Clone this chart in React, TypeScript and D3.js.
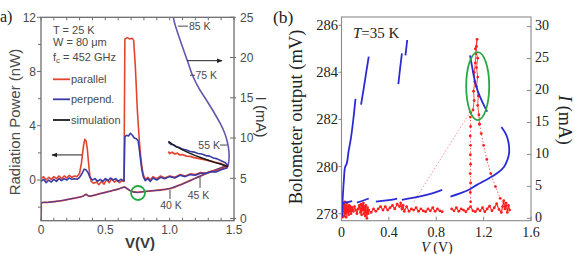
import React from "react";
import * as d3 from "d3";

type P = [number, number];

// ================= Panel (a) =================
const aXTickValues = [0, 0.5, 1.0, 1.5];
const aXTickLabels = ["0", "0.5", "1.0", "1.5"];
const aLeftTickValues = [0, 4, 8, 12];
const aLeftTickLabels = ["0", "4", "8", "12"];
const aLeftMinorValues = [-2, 2, 6, 10];
const aRightTickValues = [0, 5, 10, 15, 20, 25];
const aRightTickLabels = ["0", "5", "10", "15", "20", "25"];

// Radiation power (nW), parallel polarisation
const aParallel: P[] = [
  [0, 0.1], [0.02, 0.25], [0.04, 0.0], [0.06, 0.2], [0.08, 0.05], [0.1, 0.25], [0.12, 0.1], [0.14, 0.3],
  [0.16, 0.1], [0.18, 0.3], [0.2, 0.15], [0.22, 0.35], [0.24, 0.2], [0.26, 0.3], [0.28, 0.25], [0.3, 0.5],
  [0.315, 1.3], [0.33, 2.5], [0.34, 3.0], [0.35, 2.9], [0.36, 2.3], [0.37, 1.2], [0.38, 0.3], [0.39, -0.1],
  [0.41, -0.25], [0.43, -0.15], [0.45, -0.35], [0.47, -0.1], [0.49, -0.3], [0.51, 0.05], [0.53, -0.2],
  [0.55, 0.1], [0.57, -0.15], [0.59, 0.0], [0.61, -0.2], [0.63, -0.05], [0.645, -0.1], [0.652, 10.4],
  [0.67, 10.5], [0.69, 10.4], [0.71, 10.45], [0.72, 10.3], [0.725, 9.6], [0.733, 8.4], [0.74, 7.0],
  [0.748, 5.3], [0.755, 4.2], [0.765, 2.8], [0.775, 1.7], [0.785, 0.9], [0.795, 0.4], [0.81, 0.05],
  [0.83, 0.2], [0.85, 0.0], [0.87, 0.25], [0.9, 0.1], [0.93, 0.3], [0.96, 0.15], [1.0, 0.3], [1.04, 0.2],
  [1.08, 0.4], [1.12, 0.3], [1.16, 0.45], [1.2, 0.4], [1.24, 0.55], [1.28, 0.5], [1.32, 0.65],
  [1.36, 0.65], [1.4, 0.8], [1.45, 0.95],
];

// Radiation power (nW), perpendicular polarisation
const aPerpend: P[] = [
  [0, -0.1], [0.02, 0.05], [0.04, -0.2], [0.06, 0.0], [0.08, -0.15], [0.1, 0.05], [0.12, -0.1], [0.14, 0.1],
  [0.16, -0.05], [0.18, 0.1], [0.2, 0.0], [0.22, 0.15], [0.24, 0.05], [0.26, 0.1], [0.28, 0.05], [0.3, 0.2],
  [0.32, 0.5], [0.335, 0.8], [0.35, 0.75], [0.365, 0.55], [0.38, 0.2], [0.4, 0.0], [0.42, 0.1],
  [0.44, -0.1], [0.46, 0.05], [0.48, -0.1], [0.5, 0.1], [0.52, -0.05], [0.54, 0.15], [0.56, 0.0],
  [0.58, 0.1], [0.6, -0.1], [0.62, 0.05], [0.645, -0.05], [0.652, 3.2], [0.665, 3.3], [0.68, 3.25],
  [0.695, 3.45], [0.71, 3.3], [0.725, 3.1], [0.74, 3.05], [0.755, 2.9], [0.765, 2.2], [0.775, 1.4],
  [0.785, 0.7], [0.795, 0.25], [0.81, -0.05], [0.83, 0.1], [0.85, -0.1], [0.87, 0.15], [0.9, 0.0],
  [0.93, 0.2], [0.96, 0.1], [1.0, 0.25], [1.04, 0.15], [1.08, 0.35], [1.12, 0.25], [1.16, 0.4],
  [1.2, 0.35], [1.24, 0.5], [1.28, 0.5], [1.32, 0.6], [1.36, 0.6], [1.4, 0.75], [1.45, 0.9],
];

// High-voltage branch (nW)
const aParallelHigh: P[] = [
  [0.99, 2.1], [1.0, 1.95], [1.02, 2.05], [1.04, 1.92], [1.06, 1.98], [1.08, 1.85], [1.1, 1.88],
  [1.13, 1.76], [1.16, 1.74], [1.19, 1.66], [1.22, 1.6], [1.25, 1.55], [1.28, 1.48], [1.31, 1.42],
  [1.34, 1.34], [1.37, 1.27], [1.4, 1.2], [1.43, 1.08], [1.455, 0.98],
];
const aPerpendHigh: P[] = [
  [0.99, 2.8], [1.01, 2.62], [1.03, 2.6], [1.05, 2.45], [1.07, 2.42], [1.1, 2.28], [1.13, 2.22],
  [1.16, 2.1], [1.19, 2.06], [1.22, 1.96], [1.25, 1.92], [1.28, 1.8], [1.31, 1.76], [1.34, 1.62],
  [1.37, 1.56], [1.4, 1.42], [1.43, 1.3], [1.455, 1.05],
];
const aSimulation: P[] = [
  [0.99, 2.85], [1.02, 2.65], [1.06, 2.42], [1.1, 2.22], [1.15, 2.0], [1.2, 1.8], [1.25, 1.62],
  [1.3, 1.46], [1.35, 1.3], [1.4, 1.16], [1.455, 0.98],
];

// I-V curves (mA)
const aUpperIV: P[] = [
  [1.02, 25.6], [1.04, 24.2], [1.07, 22.7], [1.1, 21.3], [1.14, 19.5], [1.18, 17.7], [1.23, 16.1],
  [1.29, 14.6], [1.34, 13.3], [1.39, 11.9], [1.42, 10.9], [1.44, 10.0], [1.455, 9.0], [1.462, 8.0],
  [1.46, 7.2], [1.455, 6.6],
];
const aLowerIV: P[] = [
  [0, -0.3], [0.002, 1.2], [0.005, 1.95], [0.05, 2.0], [0.1, 2.1], [0.15, 2.2], [0.2, 2.35], [0.25, 2.5],
  [0.3, 2.65], [0.33, 2.8], [0.35, 3.0], [0.37, 2.8], [0.4, 2.85], [0.45, 3.05], [0.5, 3.25], [0.55, 3.45],
  [0.6, 3.65], [0.65, 3.9], [0.67, 3.7], [0.7, 3.4], [0.75, 3.25], [0.8, 3.35], [0.9, 3.5], [1.0, 3.72],
  [1.1, 4.3], [1.2, 5.0], [1.3, 5.7], [1.4, 6.3], [1.455, 6.6],
];

// temperature annotations: [label, textV, textI, leaderV1, leaderI1, leaderV2, leaderI2, anchor]
const aTempLabels: [string, number, number, number, number, number, number, string][] = [
  ["85 K", 1.15, 23.4, 1.065, 23.9, 1.142, 23.9, "start"],
  ["75 K", 1.2, 17.3, 1.158, 17.8, 1.197, 17.8, "start"],
  ["55 K", 1.391, 8.64, 1.391, 9.13, 1.446, 9.13, "end"],
  ["45 K", 1.224, 2.43, 1.236, 5.16, 1.236, 3.8, "middle"],
  ["40 K", 1.01, 1.18, 1.0026, 3.55, 1.0026, 2.43, "middle"],
];

// ================= Panel (b) =================
const bXTickValues = [0, 0.4, 0.8, 1.2, 1.6];
const bXTickLabels = ["0", "0.4", "0.8", "1.2", "1.6"];
const bLeftTickValues = [278, 280, 282, 284, 286];
const bLeftTickLabels = ["278", "280", "282", "284", "286"];
const bRightTickValues = [0, 5, 10, 15, 20, 25, 30];
const bRightTickLabels = ["0", "5", "10", "15", "20", "25", "30"];

// I-V (mA) segments
const bBlueSegments: P[][] = [
  [[0.003, 0.2], [0.01, 3.0], [0.02, 6.0], [0.03, 8.0], [0.045, 8.6], [0.06, 10.5], [0.08, 12.6], [0.1, 15.5], [0.118, 18.7]],
  [[0.165, 17.8], [0.19, 20.6], [0.21, 23.0], [0.23, 25.3]],
  [[0.48, 21.0], [0.495, 23.5], [0.51, 25.8]],
  [[0.54, 25.5], [0.548, 26.8], [0.555, 27.9]],
  [[1.085, 25.5], [1.1, 24.0], [1.12, 22.0], [1.14, 20.5], [1.17, 19.0], [1.2, 17.8], [1.23, 16.7]],
  [[0.005, 2.35], [0.04, 2.5], [0.09, 2.7]],
  [[0.13, 2.45], [0.18, 2.75], [0.23, 3.1]],
  [[0.29, 2.6], [0.38, 2.8], [0.47, 3.1]],
  [[0.51, 2.9], [0.6, 3.2], [0.7, 3.6], [0.78, 4.0], [0.85, 4.45]],
  [[0.92, 3.4], [1.0, 3.9], [1.08, 4.5], [1.14, 5.2], [1.22, 6.0], [1.31, 7.0], [1.37, 8.0], [1.4, 9.1],
   [1.415, 10.2], [1.415, 11.2], [1.405, 12.3], [1.385, 13.3], [1.35, 14.3]],
];

// bolometer output (mV)
const bRedBaseA: P[] = [
  [0.0, 278.0], [0.004, 278.35], [0.008, 277.85], [0.012, 278.45], [0.015, 278.1], [0.018, 278.4],
  [0.021, 277.9], [0.025, 278.25], [0.028, 278.5], [0.032, 278.0], [0.035, 278.35], [0.039, 277.85],
  [0.043, 278.2], [0.047, 278.45], [0.05, 278.05], [0.055, 278.3], [0.06, 277.95], [0.065, 278.35],
  [0.07, 278.1], [0.075, 278.3], [0.08, 278.0], [0.09, 278.25], [0.1, 278.1], [0.11, 278.3],
  [0.12, 278.15], [0.13, 278.0], [0.14, 278.2], [0.15, 278.35], [0.16, 278.05], [0.165, 278.4],
  [0.17, 277.95], [0.175, 278.35], [0.18, 278.15], [0.185, 278.45], [0.19, 278.0], [0.195, 278.3],
  [0.2, 277.9], [0.205, 278.35], [0.21, 278.1], [0.215, 277.8], [0.22, 278.25], [0.225, 278.0],
  [0.23, 278.15], [0.25, 278.05], [0.27, 278.2], [0.29, 278.1], [0.31, 278.2], [0.33, 278.3],
  [0.35, 278.15], [0.37, 278.3], [0.39, 278.15], [0.41, 278.25], [0.43, 278.35], [0.45, 278.2],
  [0.47, 278.4], [0.49, 278.3], [0.5, 278.45], [0.51, 278.2], [0.52, 278.35], [0.53, 278.1],
  [0.55, 278.3], [0.57, 278.1], [0.59, 278.2], [0.61, 278.15], [0.63, 278.25], [0.65, 278.1],
  [0.67, 278.2], [0.69, 278.12], [0.71, 278.08], [0.73, 278.2], [0.75, 278.12], [0.77, 278.25],
  [0.79, 278.1], [0.81, 278.2], [0.83, 278.12], [0.85, 278.08],
];
const bRedBaseB: P[] = [
  [0.93, 278.2], [0.95, 278.12], [0.97, 278.25], [0.99, 278.1], [1.01, 278.2], [1.03, 278.15],
  [1.05, 278.08], [1.07, 278.2], [1.09, 278.3], [1.11, 278.12], [1.13, 278.08], [1.15, 278.2],
  [1.17, 278.12], [1.19, 278.25], [1.21, 278.08], [1.23, 278.2], [1.25, 278.32], [1.27, 278.12],
  [1.29, 278.25], [1.31, 278.42], [1.33, 278.18], [1.35, 278.05], [1.36, 278.3], [1.37, 278.55],
  [1.38, 278.2], [1.39, 278.45], [1.4, 278.05], [1.41, 278.35], [1.42, 278.15],
];
const bRedColumn: P[] = [
  [1.09, 278.5], [1.088, 278.9], [1.09, 279.3], [1.087, 279.7], [1.09, 280.1], [1.088, 280.5],
  [1.09, 280.9], [1.087, 281.3], [1.09, 281.7], [1.088, 282.1], [1.09, 282.3],
];
const bRedPeak: P[] = [
  [1.11, 282.4], [1.12, 282.8], [1.115, 283.2], [1.125, 283.6], [1.12, 284.0], [1.13, 284.4],
  [1.135, 284.8], [1.14, 285.1], [1.145, 285.4], [1.13, 285.0], [1.15, 284.6], [1.14, 284.2],
  [1.15, 283.8], [1.14, 283.4], [1.155, 283.0], [1.15, 282.6], [1.16, 282.2], [1.165, 281.8],
];
const bRedFall: P[] = [
  [1.165, 281.8], [1.18, 281.4], [1.2, 280.9], [1.227, 280.3], [1.26, 279.7], [1.3, 279.15],
  [1.34, 278.65], [1.38, 278.3],
];
const bRedFaint: P[] = [[0.61, 278.5], [1.085, 282.3]];

const SANS = "'Liberation Sans', Arial, Helvetica, sans-serif";
const SERIF = "'Liberation Serif', 'Times New Roman', Times, serif";

export default function App() {
  const xA = d3.scaleLinear().domain([0, 1.5]).range([41, 234]);
  const yAL = d3.scaleLinear().domain([-3, 12]).range([220.7, 17.3]);
  const yAR = d3.scaleLinear().domain([-0.27, 25]).range([220.7, 17.3]);
  const xB = d3.scaleLinear().domain([0, 1.6]).range([341.5, 531]);
  const yBL = d3.scaleLinear().domain([277.7, 286.35]).range([220.7, 17]);
  const yBR = d3.scaleLinear().domain([-0.37, 31.5]).range([220.7, 17]);

  const lAL = d3.line<P>().x((d) => xA(d[0])).y((d) => yAL(d[1]));
  const lAR = d3.line<P>().x((d) => xA(d[0])).y((d) => yAR(d[1])).curve(d3.curveCatmullRom);
  const lBR = d3.line<P>().x((d) => xB(d[0])).y((d) => yBR(d[1])).curve(d3.curveCatmullRom);
  const lBL = d3.line<P>().x((d) => xB(d[0])).y((d) => yBL(d[1]));

  const [ax0, ax1] = xA.range();
  const [ay0, ay1] = [yAL.range()[1], yAL.range()[0]];
  const [bx0, bx1] = xB.range();
  const [by0, by1] = [yBL.range()[1], yBL.range()[0]];

  const aMinorX = d3.range(0, 1.5001, 0.1);
  const red = "#e2452e";
  const blue = "#3b3ba6";
  const purple = "#6656ad";
  const axisA = "#6e6e6e";
  const textA = "#4a4a4a";
  const bRed = "#ff1f1f";
  const bBlue = "#2b2bd6";
  const green = "#27a845";

  return (
    <svg width={575} height={254} style={{ position: "absolute", left: 0, top: 0, background: "#fff" }}>
      <defs>
        <clipPath id="clipA"><rect x={ax0} y={ay0} width={ax1 - ax0} height={ay1 - ay0} /></clipPath>
        <clipPath id="clipB"><rect x={bx0} y={by0} width={bx1 - bx0} height={by1 - by0} /></clipPath>
        <marker id="arr" viewBox="0 0 10 10" refX="9" refY="5" markerWidth="6" markerHeight="6" orient="auto-start-reverse">
          <path d="M0,1 L10,5 L0,9 Z" fill="#222" />
        </marker>
      </defs>

      {/* ============ Panel (a) ============ */}
      <text x={0} y={22} fontFamily={SERIF} fontSize={16} fill="#222">a)</text>
      <g clipPath="url(#clipA)" fill="none" strokeLinejoin="round">
        <path d={lAR(aLowerIV) || ""} stroke={red} strokeWidth={1.8} />
        <path d={lAR(aLowerIV) || ""} stroke={blue} strokeWidth={1.1} opacity={0.85} />
        <path d={lAR(aUpperIV) || ""} stroke={purple} strokeWidth={1.6} />
        <path d={lAL(aParallel) || ""} stroke={red} strokeWidth={1.6} />
        <path d={lAL(aPerpend) || ""} stroke={blue} strokeWidth={1.6} />
        <path d={lAL(aParallelHigh) || ""} stroke={red} strokeWidth={1.8} />
        <path d={lAL(aPerpendHigh) || ""} stroke={blue} strokeWidth={1.6} />
        <path d={lAL(aSimulation) || ""} stroke="#1b1b1b" strokeWidth={1.5} />
      </g>
      {/* frame */}
      <rect x={ax0} y={ay0} width={ax1 - ax0} height={ay1 - ay0} fill="none" stroke={axisA} strokeWidth={1.3} />
      {aMinorX.map((v, i) => (
        <g key={"amx" + i} stroke={axisA} strokeWidth={1}>
          <line x1={xA(v)} x2={xA(v)} y1={ay1} y2={ay1 - 3} />
          <line x1={xA(v)} x2={xA(v)} y1={ay0} y2={ay0 + 3} />
        </g>
      ))}
      {aXTickValues.map((v, i) => (
        <text key={"axl" + i} x={xA(v)} y={234} textAnchor="middle" fontFamily={SANS} fontSize={12} fill={textA}>{aXTickLabels[i]}</text>
      ))}
      {aLeftTickValues.map((v, i) => (
        <g key={"alt" + i}>
          <line x1={ax0 - 4} x2={ax0} y1={yAL(v)} y2={yAL(v)} stroke={axisA} strokeWidth={1} />
          <text x={36} y={yAL(v) + 4.3} textAnchor="end" fontFamily={SANS} fontSize={12} fill={textA}>{aLeftTickLabels[i]}</text>
        </g>
      ))}
      {aLeftMinorValues.map((v, i) => (
        <line key={"alm" + i} x1={ax0 - 3} x2={ax0} y1={yAL(v)} y2={yAL(v)} stroke={axisA} strokeWidth={1} />
      ))}
      {aRightTickValues.map((v, i) => (
        <g key={"art" + i}>
          <line x1={ax1 - 4} x2={ax1 + 2} y1={yAR(v)} y2={yAR(v)} stroke={axisA} strokeWidth={1} />
          <text x={240} y={yAR(v) + 4.3} textAnchor="start" fontFamily={SANS} fontSize={12} fill={textA}>{aRightTickLabels[i]}</text>
        </g>
      ))}
      <text transform="translate(20,122) rotate(-90)" textAnchor="middle" fontFamily={SANS} fontSize={15} fill={textA}>Radiation Power (nW)</text>
      <text x={140} y={248} textAnchor="middle" fontFamily={SANS} fontSize={15} fontWeight={600} fill="#3a3a3a">V(V)</text>
      <text transform="translate(256,117) rotate(90)" textAnchor="middle" fontFamily={SANS} fontSize={15} fill="#3a3a3a">I (mA)</text>

      {/* info text */}
      <g fontFamily={SANS} fontSize={11} fill={textA}>
        <text x={53} y={34}>T = 25 K</text>
        <text x={53} y={45.5}>W = 80 μm</text>
        <text x={53} y={60.5}>f<tspan dy={2.5} fontSize={8}>c</tspan><tspan dy={-2.5}> = 452 GHz</tspan></text>
        <line x1={53} x2={70} y1={79.3} y2={79.3} stroke={red} strokeWidth={1.8} />
        <text x={71} y={83}>parallel</text>
        <line x1={53} x2={70} y1={99.3} y2={99.3} stroke={blue} strokeWidth={1.8} />
        <text x={71} y={103}>perpend.</text>
        <line x1={53} x2={70} y1={120} y2={120} stroke="#1b1b1b" strokeWidth={1.8} />
        <text x={71} y={123.7}>simulation</text>
      </g>

      {/* temperature labels */}
      {aTempLabels.map((t, i) => (
        <g key={"tl" + i}>
          <line x1={xA(t[3])} x2={xA(t[5])} y1={yAR(t[4])} y2={yAR(t[6])} stroke={textA} strokeWidth={1} />
          <text x={xA(t[1])} y={yAR(t[2])} textAnchor={t[7] as any} fontFamily={SANS} fontSize={10.5} fill={textA}>{t[0]}</text>
        </g>
      ))}

      {/* arrows */}
      <line x1={xA(0.319)} x2={xA(0.085)} y1={yAL(1.85)} y2={yAL(1.85)} stroke="#222" strokeWidth={1} markerEnd="url(#arr)" />
      <line x1={xA(1.135)} x2={xA(1.407)} y1={yAR(19.61)} y2={yAR(19.61)} stroke="#222" strokeWidth={1} markerEnd="url(#arr)" />

      {/* green circle */}
      <circle cx={xA(0.754)} cy={yAR(3.17)} r={7} fill="none" stroke={green} strokeWidth={1.8} />

      {/* ============ Panel (b) ============ */}
      <text x={273} y={23} fontFamily={SERIF} fontSize={17.5} fill="#222">(b)</text>
      <g clipPath="url(#clipB)">
        {/* red bolometer trace */}
        <g fill="none" stroke={bRed}>
          <path d={lBL(bRedFaint) || ""} strokeWidth={0.7} strokeDasharray="1.5,2" opacity={0.7} />
          <path d={lBL(bRedBaseA) || ""} strokeWidth={1.1} />
          <path d={lBL(bRedBaseB) || ""} strokeWidth={1.1} />
          <path d={lBL(bRedColumn) || ""} strokeWidth={0.7} strokeDasharray="1.5,2" />
          <path d={lBL(bRedPeak) || ""} strokeWidth={0.8} />
          <path d={lBL(bRedFall) || ""} strokeWidth={0.7} strokeDasharray="1.5,2" />
        </g>
        {[...bRedBaseA, ...bRedBaseB, ...bRedColumn, ...bRedPeak, ...bRedFall].map((d, i) => (
          <circle key={"rp" + i} cx={xB(d[0])} cy={yBL(d[1])} r={1.4} fill={bRed} />
        ))}
        {/* blue IV */}
        {bBlueSegments.map((s, i) => (
          <path key={"bs" + i} d={lBR(s) || ""} fill="none" stroke={bBlue} strokeWidth={1.8} />
        ))}
      </g>
      <rect x={bx0} y={by0} width={bx1 - bx0} height={by1 - by0} fill="none" stroke="#8a8a8a" strokeWidth={1.1} />
      {bXTickValues.map((v, i) => (
        <g key={"bx" + i}>
          <line x1={xB(v)} x2={xB(v)} y1={by1} y2={by1 - 4} stroke="#8a8a8a" strokeWidth={1} />
          <text x={xB(v)} y={237} textAnchor="middle" fontFamily={SERIF} fontSize={14} fill="#222">{bXTickLabels[i]}</text>
        </g>
      ))}
      {bLeftTickValues.map((v, i) => (
        <g key={"bl" + i}>
          <line x1={bx0 - 3} x2={bx0} y1={yBL(v)} y2={yBL(v)} stroke="#8a8a8a" strokeWidth={1} />
          <text x={338} y={yBL(v) + 5} textAnchor="end" fontFamily={SERIF} fontSize={14.5} fill="#222">{bLeftTickLabels[i]}</text>
        </g>
      ))}
      {bRightTickValues.map((v, i) => (
        <g key={"br" + i}>
          <line x1={bx1 - 4} x2={bx1} y1={yBR(v)} y2={yBR(v)} stroke="#8a8a8a" strokeWidth={1} />
          <text x={535} y={yBR(v) + 3.5} textAnchor="start" fontFamily={SERIF} fontSize={14} fill="#222">{bRightTickLabels[i]}</text>
        </g>
      ))}
      <text transform="translate(302,117) rotate(-90)" textAnchor="middle" fontFamily={SERIF} fontSize={18.5} fill="#222">Bolometer output (mV)</text>
      <text transform="translate(559,120) rotate(90)" textAnchor="middle" fontFamily={SERIF} fontSize={18} fill="#222"><tspan fontStyle="italic">I</tspan> (mA)</text>
      <text x={437} y={251.5} textAnchor="middle" fontFamily={SERIF} fontSize={14} fill="#222"><tspan fontStyle="italic">V</tspan> (V)</text>
      <text x={353} y={38} fontFamily={SERIF} fontSize={15} fill="#222"><tspan fontStyle="italic">T</tspan>=35 K</text>

      {/* green ellipse */}
      <ellipse cx={xB(1.15)} cy={yBR(20.7)} rx={11.5} ry={34} fill="none" stroke={green} strokeWidth={1.8} />
    </svg>
  );
}
